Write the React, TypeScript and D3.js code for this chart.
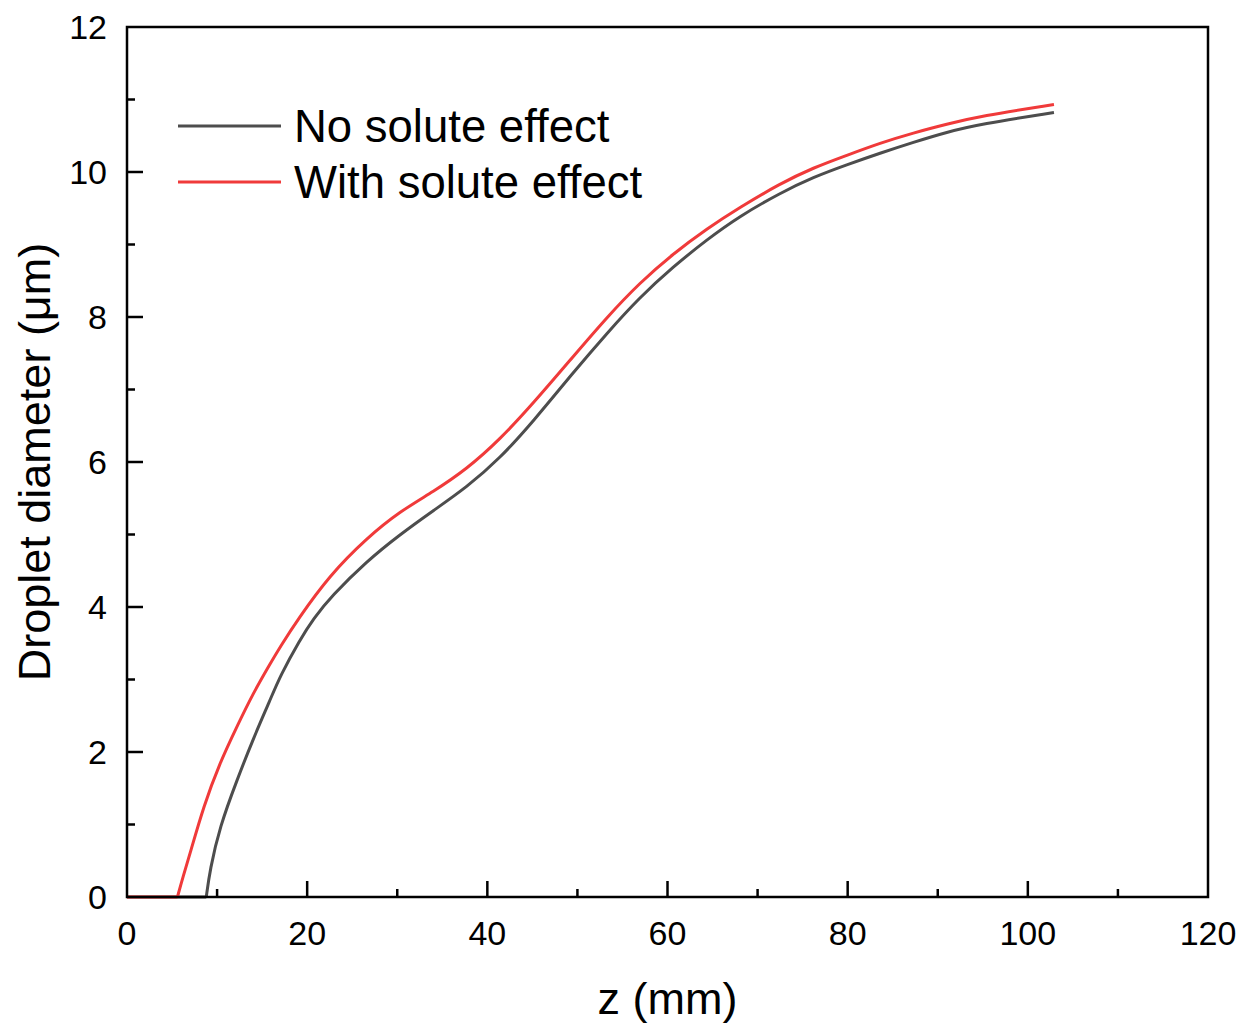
import React, { useRef, useEffect } from 'react';
import * as d3 from 'd3';

// z (mm) vs droplet diameter (um)
const zNoSolute = [0, 8.8, 9.2, 10.3, 12.2, 14, 15.9, 17, 19.2, 20.7, 22.7, 26.6, 30.3, 34, 37.7, 41.4, 45.1, 49.5, 53.3, 56.9, 60.6, 64.4, 68, 72.5, 76.2, 79.9, 83.6, 87.3, 91, 94.7, 102.9];
const dNoSolute = [0, 0, 0.37, 0.97, 1.61, 2.18, 2.72, 3.05, 3.55, 3.84, 4.15, 4.63, 5.0, 5.33, 5.65, 6.05, 6.56, 7.23, 7.78, 8.27, 8.69, 9.07, 9.39, 9.71, 9.93, 10.10, 10.26, 10.41, 10.55, 10.66, 10.82];

const zSolute = [0, 5.6, 6.2, 7, 8.5, 10.3, 12.2, 14, 15.9, 17, 18.9, 22.5, 26.6, 30.3, 34, 37.7, 41.4, 45.1, 49.5, 53.3, 56.9, 60.6, 64.4, 68, 72.5, 76.2, 79.9, 83.6, 87.3, 91, 94.7, 102.9];
const dSolute = [0, 0, 0.27, 0.6, 1.25, 1.85, 2.35, 2.81, 3.22, 3.45, 3.82, 4.44, 4.95, 5.32, 5.59, 5.90, 6.31, 6.81, 7.45, 8.0, 8.47, 8.87, 9.22, 9.51, 9.84, 10.06, 10.23, 10.40, 10.54, 10.66, 10.77, 10.93];

const seriesNames = ['No solute effect', 'With solute effect'];
const seriesColors = ['#4d4d4d', '#f03a3a'];

const xTicks = [0, 20, 40, 60, 80, 100, 120];
const yTicks = [0, 2, 4, 6, 8, 10, 12];

type Pt = { z: number; d: number };

const App = () => {
  const svgRef = useRef<SVGSVGElement>(null);
  const width = 1244, height = 1026;
  const margin = { top: 27, right: 36, bottom: 129, left: 127 };

  useEffect(() => {
    const svg = d3.select(svgRef.current);
    svg.selectAll('*').remove();
    const font = '"Liberation Sans", Arial, sans-serif';

    const innerWidth = width - margin.left - margin.right;
    const innerHeight = height - margin.top - margin.bottom;

    const x = d3.scaleLinear().domain([0, 120]).range([0, innerWidth]);
    const y = d3.scaleLinear().domain([0, 12]).range([innerHeight, 0]);

    const g = svg.append('g').attr('transform', `translate(${margin.left},${margin.top})`);

    const series: Pt[][] = [
      zNoSolute.map((z, i) => ({ z, d: dNoSolute[i] })),
      zSolute.map((z, i) => ({ z, d: dSolute[i] })),
    ];

    const flat = d3.line<Pt>().x(p => x(p.z)).y(p => y(p.d));
    const smooth = d3.line<Pt>().x(p => x(p.z)).y(p => y(p.d)).curve(d3.curveBasis);

    series.forEach((s, i) => {
      // flat part up to the kink, then the smooth rise
      const k = s.findIndex(p => p.d > 0) - 1;
      [flat(s.slice(0, k + 1)), smooth(s.slice(k))].forEach(dstr => {
        g.append('path')
          .attr('fill', 'none')
          .attr('stroke', seriesColors[i])
          .attr('stroke-width', 3)
          .attr('d', dstr);
      });
    });

    // inward ticks, minor ones between majors
    const xMinor = d3.range(10, 120, 20);
    const yMinor = d3.range(1, 12, 2);
    const tk = g.append('g').attr('stroke', '#000').attr('stroke-width', 2.5);
    xTicks.slice(1, -1).forEach(v => tk.append('line').attr('x1', x(v)).attr('x2', x(v)).attr('y1', innerHeight).attr('y2', innerHeight - 16));
    xMinor.forEach(v => tk.append('line').attr('x1', x(v)).attr('x2', x(v)).attr('y1', innerHeight).attr('y2', innerHeight - 8));
    yTicks.slice(1, -1).forEach(v => tk.append('line').attr('x1', 0).attr('x2', 16).attr('y1', y(v)).attr('y2', y(v)));
    yMinor.forEach(v => tk.append('line').attr('x1', 0).attr('x2', 8).attr('y1', y(v)).attr('y2', y(v)));

    g.append('rect')
      .attr('width', innerWidth)
      .attr('height', innerHeight)
      .attr('fill', 'none')
      .attr('stroke', '#000')
      .attr('stroke-width', 2.5);

    g.selectAll('.xl').data(xTicks).enter().append('text')
      .attr('x', d => x(d)).attr('y', innerHeight + 48)
      .attr('text-anchor', 'middle')
      .attr('font-family', font).attr('font-size', 34)
      .text(d => d);

    g.selectAll('.yl').data(yTicks).enter().append('text')
      .attr('x', -20).attr('y', d => y(d) + 12)
      .attr('text-anchor', 'end')
      .attr('font-family', font).attr('font-size', 34)
      .text(d => d);

    svg.append('text')
      .attr('x', margin.left + innerWidth / 2).attr('y', 1014)
      .attr('text-anchor', 'middle')
      .attr('font-family', font).attr('font-size', 45)
      .text('z (mm)');

    svg.append('text')
      .attr('transform', `translate(50,${margin.top + innerHeight / 2}) rotate(-90)`)
      .attr('text-anchor', 'middle')
      .attr('font-family', font).attr('font-size', 45)
      .text('Droplet diameter (\u03bcm)');

    const leg = svg.append('g');
    seriesNames.forEach((name, i) => {
      const ly = 126 + i * 56;
      leg.append('line')
        .attr('x1', 178).attr('x2', 281).attr('y1', ly).attr('y2', ly)
        .attr('stroke', seriesColors[i]).attr('stroke-width', 3);
      leg.append('text')
        .attr('x', 294).attr('y', ly + 16)
        .attr('font-family', font).attr('font-size', 45.5)
        .text(name);
    });
  }, []);

  return <svg ref={svgRef} width={width} height={height} style={{ position: 'absolute', left: 0, top: 0, background: '#fff' }} />;
};

export default App;
